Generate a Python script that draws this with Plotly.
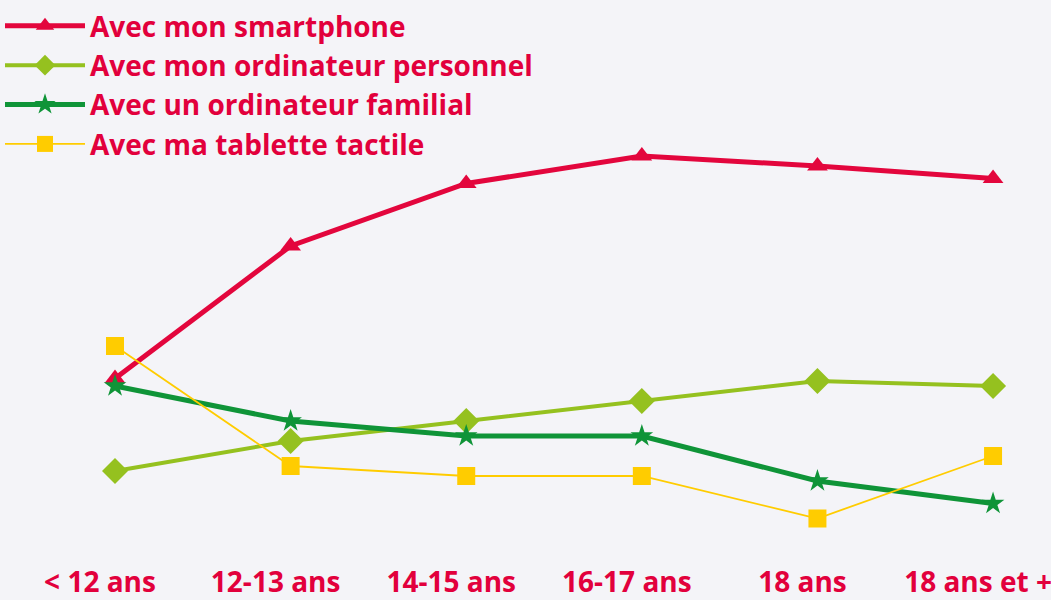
import plotly.graph_objects as go

# age groups on the x axis
ages = ["< 12 ans", "12-13 ans", "14-15 ans", "16-17 ans", "18 ans", "18 ans et +"]

# share of young people per device (%)
smartphone = [44.5, 71, 83.5, 89, 87, 84.5]
ordi_perso = [26, 32, 36, 40, 44, 43]
ordi_familial = [43, 36, 33, 33, 24, 19.5]
tablette = [51, 27, 25, 25, 16.5, 29]

RED = "#e3063d"
TEXT_RED = "#e2003c"

series = [
    ("Avec mon smartphone", smartphone, RED, 5, "triangle-up", 18),
    ("Avec mon ordinateur personnel", ordi_perso, "#95c11f", 4, "diamond", 20),
    ("Avec un ordinateur familial", ordi_familial, "#0f9438", 5, "star", 17),
    ("Avec ma tablette tactile", tablette, "#ffcc00", 1.8, "square", 18),
]

fig = go.Figure()
for name, vals, color, lw, sym, size in series:
    fig.add_trace(go.Scatter(
        x=list(range(len(ages))),
        y=vals,
        name=name,
        mode="lines+markers",
        line=dict(color=color, width=lw),
        marker=dict(symbol=sym, size=size, color=color, line=dict(width=0)),
        cliponaxis=False,
    ))

fig.update_layout(
    width=1051,
    height=600,
    paper_bgcolor="#f4f4f8",
    plot_bgcolor="#f4f4f8",
    margin=dict(l=0, r=0, t=101, b=34),
    showlegend=True,
    legend=dict(
        x=0, y=1.215, xanchor="left", yanchor="top",
        font=dict(family="Open Sans", size=28, color=TEXT_RED, weight="bold"),
        itemwidth=80,
        bgcolor="rgba(0,0,0,0)",
    ),
    xaxis=dict(
        range=[-0.655, 5.33],
        tickvals=list(range(len(ages))),
        ticktext=ages,
        showgrid=False, zeroline=False, showline=False,
        tickfont=dict(family="Open Sans", size=28, color=TEXT_RED, weight="bold"),
        ticklabelstandoff=-3,
        ticklabelshift=-15,
        ticklabeloverflow="allow",
        automargin=False,
    ),
    yaxis=dict(
        range=[7, 100],
        visible=False,
        showgrid=False,
    ),
)

# drop the default body margin so the figure fills the window
fig.write_html(
    "out.html",
    config={"displayModeBar": False},
    post_script="document.body.style.margin = '0';",
)
